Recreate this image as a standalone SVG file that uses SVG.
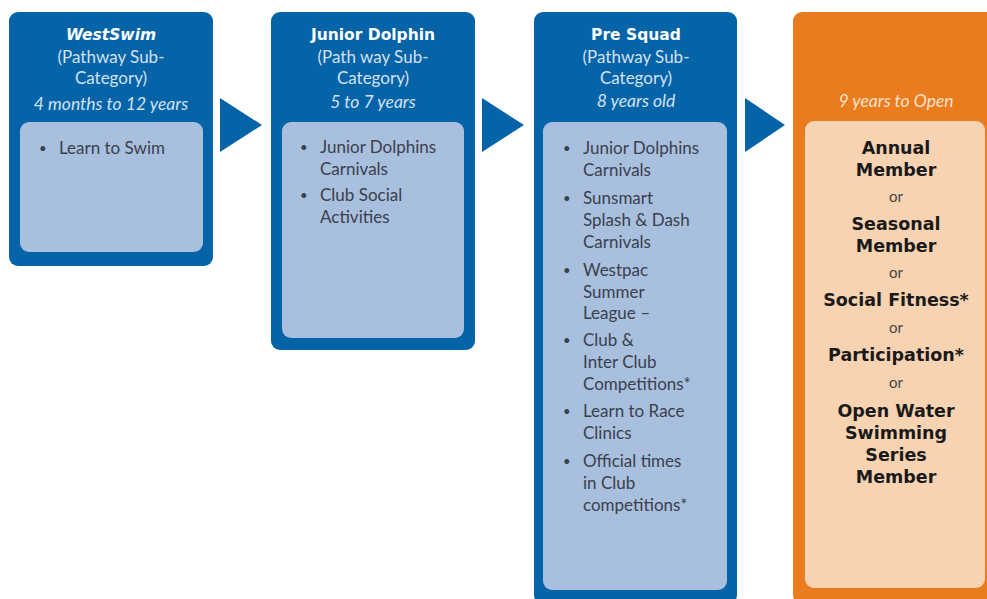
<svg xmlns="http://www.w3.org/2000/svg" width="987" height="599" viewBox="0 0 987 599">
<style>
.outer{fill:#0563a8}
.inner{fill:#a9bfde}
.outerO{fill:#e87c1e}
.innerO{fill:#f8d3b1}
.arrow{fill:#0563a8}
text{font-family:"Lato","Open Sans","Liberation Sans",sans-serif;font-size:17px}
.title{fill:#ffffff;font-family:"DejaVu Sans","Liberation Sans",sans-serif;font-weight:bold;font-size:15.5px;text-anchor:middle}
.sub{fill:#d3e1f1;text-anchor:middle}
.age{fill:#d3e1f1;font-style:italic;font-size:17.5px;text-anchor:middle}
.ageO{fill:#fbe2cb;font-style:italic;font-size:17.5px;text-anchor:middle}
.item{fill:#3a404c}
.bul{fill:#3a404c;font-size:13px}
.mem{fill:#1a1a1a;font-family:"DejaVu Sans","Liberation Sans",sans-serif;font-weight:bold;font-size:17.5px;text-anchor:middle}
.or{fill:#444;font-size:15px;text-anchor:middle}
</style>
<rect width="987" height="599" fill="#ffffff"/>
<g id="connectors">
<polygon class="arrow" points="220,98 262,125 220,152"/>
<polygon class="arrow" points="482,98 524,125 482,152"/>
<polygon class="arrow" points="745,98 785,125 745,152"/>
</g>
<g id="westswim">
<rect class="outer" x="9" y="12" width="204" height="254" rx="9"/>
<rect class="inner" x="20" y="122" width="183" height="130" rx="9"/>
<text class="title" x="111" y="40" font-style="italic">WestSwim</text>
<text class="sub" x="111" y="63">(Pathway Sub-</text>
<text class="sub" x="111" y="84">Category)</text>
<text class="age" x="111" y="110">4 months to 12 years</text>
<text class="bul" x="39" y="153">•</text>
<text class="item" x="59" y="154">Learn to Swim</text>
</g>
<g id="junior-dolphin">
<rect class="outer" x="271" y="12" width="204" height="338" rx="9"/>
<rect class="inner" x="282" y="122" width="182" height="216" rx="9"/>
<text class="title" x="373" y="40">Junior Dolphin</text>
<text class="sub" x="373" y="63">(Path way Sub-</text>
<text class="sub" x="373" y="84">Category)</text>
<text class="age" x="373" y="108">5 to 7 years</text>
<text class="bul" x="300" y="152">•</text>
<text class="item" x="320" y="153">Junior Dolphins</text>
<text class="item" x="320" y="175">Carnivals</text>
<text class="bul" x="300" y="200">•</text>
<text class="item" x="320" y="201">Club Social</text>
<text class="item" x="320" y="223">Activities</text>
</g>
<g id="pre-squad">
<rect class="outer" x="534" y="12" width="203" height="592" rx="9"/>
<rect class="inner" x="543" y="122" width="184" height="468" rx="9"/>
<text class="title" x="636" y="40">Pre Squad</text>
<text class="sub" x="636" y="63">(Pathway Sub-</text>
<text class="sub" x="636" y="84">Category)</text>
<text class="age" x="636" y="107">8 years old</text>
<text class="bul" x="563" y="153">•</text>
<text class="item" x="583" y="154">Junior Dolphins</text>
<text class="item" x="583" y="176">Carnivals</text>
<text class="bul" x="563" y="203">•</text>
<text class="item" x="583" y="204">Sunsmart</text>
<text class="item" x="583" y="226">Splash &amp; Dash</text>
<text class="item" x="583" y="248">Carnivals</text>
<text class="bul" x="563" y="275">•</text>
<text class="item" x="583" y="276">Westpac</text>
<text class="item" x="583" y="298">Summer</text>
<text class="item" x="583" y="319">League –</text>
<text class="bul" x="563" y="345">•</text>
<text class="item" x="583" y="346">Club &amp;</text>
<text class="item" x="583" y="368">Inter Club</text>
<text class="item" x="583" y="390">Competitions*</text>
<text class="bul" x="563" y="416">•</text>
<text class="item" x="583" y="417">Learn to Race</text>
<text class="item" x="583" y="439">Clinics</text>
<text class="bul" x="563" y="466">•</text>
<text class="item" x="583" y="467">Official times</text>
<text class="item" x="583" y="489">in Club</text>
<text class="item" x="583" y="511">competitions*</text>
</g>
<g id="open">
<rect class="outerO" x="793" y="12" width="204" height="592" rx="9"/>
<rect class="innerO" x="805" y="121" width="180" height="467" rx="9"/>
<text class="ageO" x="896" y="107">9 years to Open</text>
<text class="mem" x="896" y="154">Annual</text>
<text class="mem" x="896" y="176">Member</text>
<text class="or" x="896" y="202">or</text>
<text class="mem" x="896" y="230">Seasonal</text>
<text class="mem" x="896" y="252">Member</text>
<text class="or" x="896" y="278">or</text>
<text class="mem" x="896" y="306">Social Fitness*</text>
<text class="or" x="896" y="333">or</text>
<text class="mem" x="896" y="361">Participation*</text>
<text class="or" x="896" y="388">or</text>
<text class="mem" x="896" y="417">Open Water</text>
<text class="mem" x="896" y="439">Swimming</text>
<text class="mem" x="896" y="461">Series</text>
<text class="mem" x="896" y="483">Member</text>
</g>
</svg>
